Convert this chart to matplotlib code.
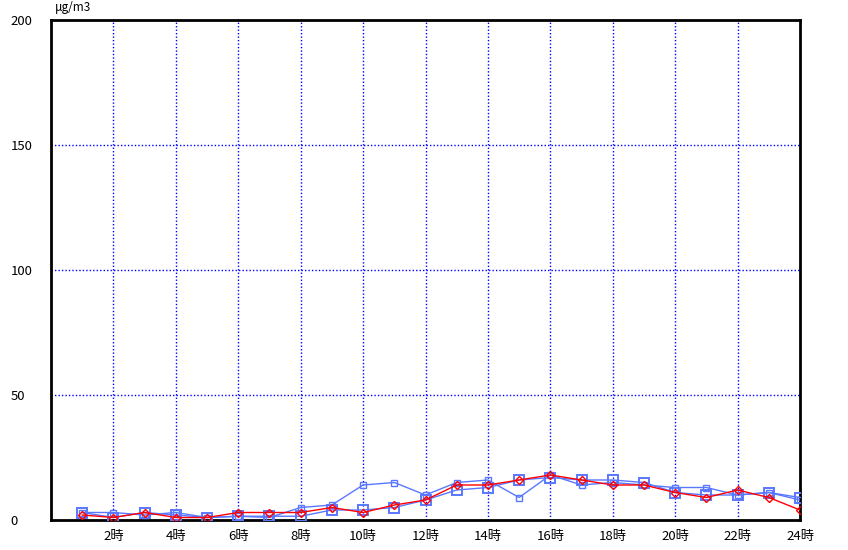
import matplotlib
matplotlib.use("Agg")
import matplotlib.pyplot as plt

plt.rcParams['font.family'] = ['Noto Sans CJK JP', 'DejaVu Sans']

hours = list(range(1, 25))
red_vals = [2, 1, 3, 1, 1, 3, 3, 3, 5, 3, 6, 8, 14, 14, 16, 18, 16, 14, 14, 11, 9, 12, 9, 4]
small_sq = [3, 3, 2, 3, 1, 1.5, 1, 5, 6, 14, 15, 10, 15, 16, 9, 18, 14, 15, 14, 13, 13, 10, 11, 8]
big_sq = [3, 1, 3, 2, 1, 1.5, 1.5, 1.5, 4, 4, 5, 8, 12, 13, 16, 17, 16, 16, 15, 11, 10, 10, 11, 9]

xticks = list(range(2, 25, 2))
xlabels = [f"{h}時" for h in xticks]
yticks = [0, 50, 100, 150, 200]

fig = plt.figure(figsize=(8.48, 5.5), dpi=100)
ax = fig.add_axes([51/848, 30/550, 749/848, 500/550])

blue = '#5a78ff'
ax.plot(hours, big_sq, color=blue, lw=1, marker='s', ms=7, mfc='none', mec=blue, mew=1.4, zorder=3)
ax.plot(hours, small_sq, color=blue, lw=1, marker='s', ms=4.5, mfc='none', mec=blue, mew=1, zorder=4)
ax.plot(hours, red_vals, color='red', lw=1, marker='D', ms=4, mfc='none', mec='red', mew=1, zorder=5)

ax.set_xlim(0, 24)
ax.set_ylim(0, 200)
ax.set_xticks(xticks)
ax.set_xticklabels(xlabels)
ax.set_yticks(yticks)
ax.set_yticklabels([str(v) for v in yticks])
ax.tick_params(length=0, labelsize=9.5)
ax.tick_params(axis='x', pad=7)
ax.tick_params(axis='y', pad=29)
for lab in ax.get_yticklabels():
    lab.set_horizontalalignment('left')

# dotted blue grid
for h in xticks[:-1]:
    ax.axvline(h, color='#0000ff', lw=1, ls=(0, (1, 1.5)), zorder=1)
for v in yticks[1:-1]:
    ax.axhline(v, color='#0000ff', lw=1, ls=(0, (1, 1.5)), zorder=1)

for s in ax.spines.values():
    s.set_linewidth(2)
    s.set_color('black')

fig.text(55/848, 1 - 7/550, "μg/m3", fontsize=8.5, va='center', ha='left')

fig.savefig("out.png", dpi=100)
